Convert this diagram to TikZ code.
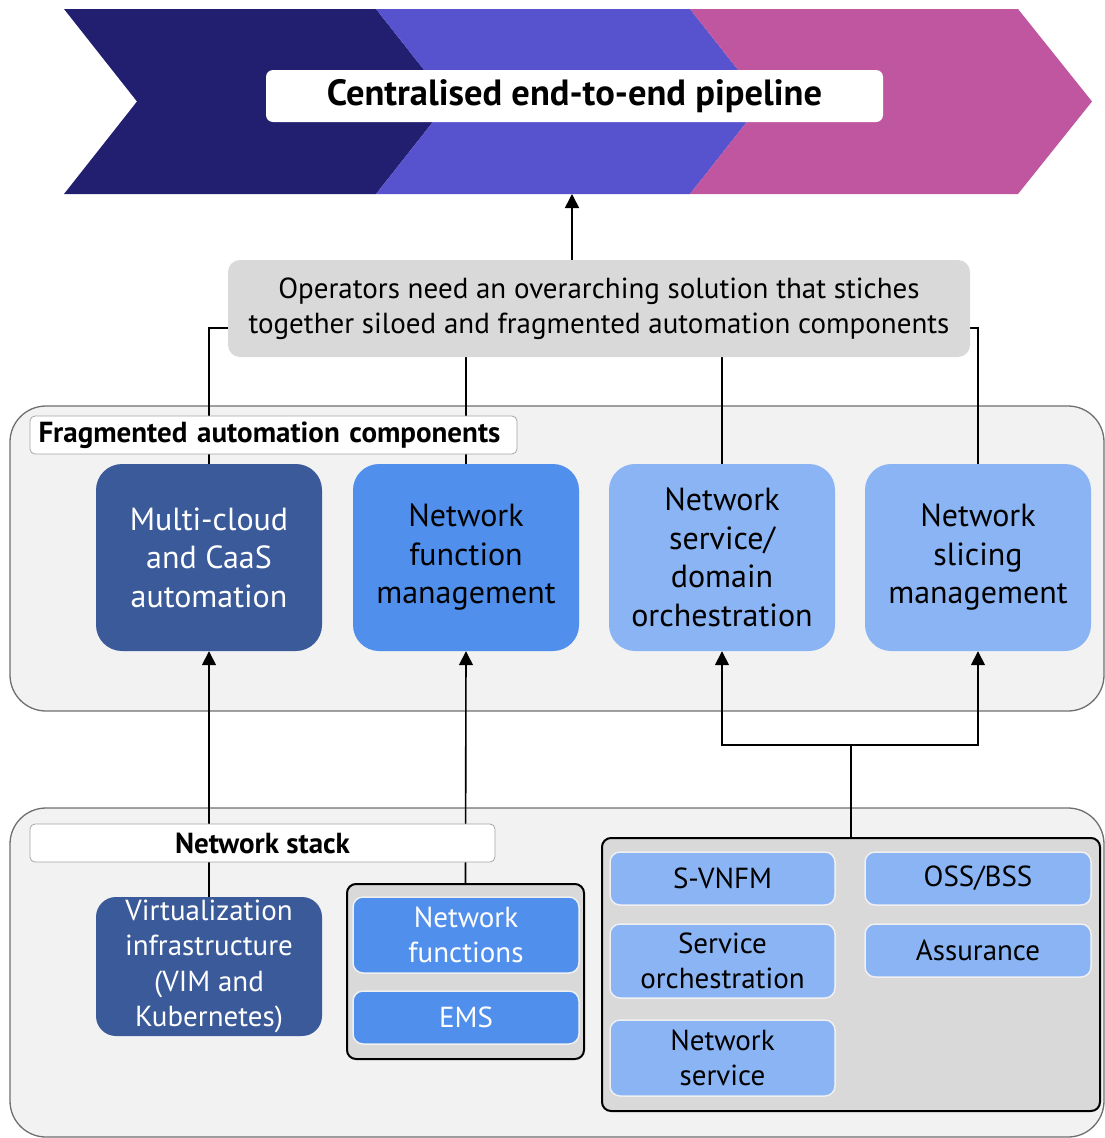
\documentclass[tikz,border=0pt]{standalone}
\usepackage{fontspec}
\setmainfont{PT Sans}
\usetikzlibrary{arrows.meta,backgrounds}
\definecolor{chevA}{HTML}{231F70}
\definecolor{chevB}{HTML}{5753CF}
\definecolor{chevC}{HTML}{C0569F}
\definecolor{darkcomp}{HTML}{3B5A9A}
\definecolor{midcomp}{HTML}{508FEC}
\definecolor{lightcomp}{HTML}{8AB4F3}
\definecolor{panelfill}{HTML}{F2F2F2}
\definecolor{groupfill}{HTML}{D9D9D9}
\definecolor{panelline}{HTML}{6F6F6F}
\newcommand\pipefont{\bfseries\fontsize{36.5}{40}\selectfont}
\newcommand\opsfont{\fontsize{29}{35}\selectfont}
\newcommand\compfont{\fontsize{32}{38.5}\selectfont}
\newcommand\stackfont{\fontsize{29}{35.5}\selectfont}
\newcommand\tagfont{\bfseries\fontsize{29}{32}\selectfont}
\begin{document}
\begin{tikzpicture}[x=1pt,y=-1pt,
    comp/.style={rounded corners=26pt, minimum width=226pt, minimum height=187pt, inner sep=0pt, align=center, font=\compfont},
    panel/.style={draw=panelline, line width=1.3pt, fill=panelfill, rounded corners=36pt, inner sep=0pt},
    tag/.style={draw=gray!70, line width=0.8pt, fill=white, rounded corners=5pt, minimum height=38pt, inner sep=0pt, font=\tagfont},
    group/.style={draw=black, line width=2pt, fill=groupfill, rounded corners=9pt, inner sep=0pt},
    item/.style={draw=white!88!gray, line width=1.5pt, rounded corners=10pt, inner sep=0pt, align=center, font=\stackfont},
    link/.style={line width=1.6pt},
    arr/.style={line width=1.6pt, -{Triangle[width=14pt,length=14pt]}}]
    \useasboundingbox (0,0) rectangle (1105,1138);
    \fill[chevA] (64,9) -- (376,9) -- (449,101.5) -- (376,194) -- (64,194) -- (137,101.5) -- cycle;
    \fill[chevB] (376,9) -- (690,9) -- (763,101.5) -- (690,194) -- (376,194) -- (449,101.5) -- cycle;
    \fill[chevC] (690,9) -- (1018,9) -- (1092,101.5) -- (1018,194) -- (690,194) -- (763,101.5) -- cycle;
    \node [fill=white, rounded corners=7pt, minimum width=617pt, minimum height=52pt, inner sep=0pt, font=\pipefont] (pipe) at (574.5,96) {Centralised end-to-end pipeline};
    \coordinate (band) at (572,194);
    \node [fill=groupfill, rounded corners=12pt, minimum width=742pt, minimum height=97pt, inner sep=0pt, align=center, font=\opsfont] (ops) at (599,308.5) {Operators need an overarching solution that stiches\\together siloed and fragmented automation components};
    \draw[arr] (ops.north -| band) -- (band);

    \begin{pgfonlayer}{background}
    \node [panel, minimum width=1094pt, minimum height=305pt] (fragpanel) at (557,558.5) {};
    \node [panel, minimum width=1094pt, minimum height=329pt] (stackpanel) at (557,972.5) {};
    \end{pgfonlayer}

    \node [tag, text width=470pt, inner xsep=8.5pt, align=left] (fragtag) at (273.5,435) {Fragmented automation components};
    \node [comp, fill=darkcomp, text=white] (cloud) at (209,557.5) {Multi-cloud\\and CaaS\\automation};
    \node [comp, fill=midcomp] (nfm) at (466,557.5) {Network\\function\\management};
    \node [comp, fill=lightcomp] (orch) at (722,557.5) {Network\\service/\\domain\\orchestration};
    \node [comp, fill=lightcomp] (slice) at (978,557.5) {Network\\slicing\\management};

    \node [tag, minimum width=465pt] (stacktag) at (262.5,843) {Network stack};
    \node [rounded corners=20pt, fill=darkcomp, text=white, minimum width=226pt, minimum height=139pt, inner sep=0pt, align=center, font=\stackfont] (virt) at (209,966.5) {Virtualization\\infrastructure\\(VIM and\\Kubernetes)};
    \node [group, minimum width=237pt, minimum height=175pt] (nfgroup) at (465.5,971.5) {};
    \node [item, fill=midcomp, text=white, minimum width=226pt, minimum height=76pt] (nf) at (466,935) {Network\\functions};
    \node [item, fill=midcomp, text=white, minimum width=226pt, minimum height=53pt] (ems) at (466,1017.5) {EMS};
    \node [group, minimum width=498pt, minimum height=273pt] (osgroup) at (851,974.5) {};
    \node [item, fill=lightcomp, minimum width=225pt, minimum height=53pt] (svnfm) at (722.5,878.5) {S-VNFM};
    \node [item, fill=lightcomp, minimum width=225pt, minimum height=74pt] (svcorch) at (722.5,961) {Service\\orchestration};
    \node [item, fill=lightcomp, minimum width=225pt, minimum height=76pt] (netsvc) at (722.5,1058) {Network\\service};
    \node [item, fill=lightcomp, minimum width=226pt, minimum height=53pt] (ossbss) at (978,878.5) {OSS/BSS};
    \node [item, fill=lightcomp, minimum width=226pt, minimum height=53pt] (assure) at (978,950.5) {Assurance};
    \coordinate (split) at (851,745);

    \begin{pgfonlayer}{background}
    \draw[link] ([yshift=-19.5pt]ops.west) -| (cloud.north);
    \draw[link] (ops.south -| nfm.north) -- (nfm.north);
    \draw[link] (ops.south -| orch.north) -- (orch.north);
    \draw[link] ([yshift=-19.5pt]ops.east) -| (slice.north);
    \draw[arr] (virt.north) -- (cloud.south);
    \draw[arr] (nfgroup.north) -- (nfm.south);
    \draw[link] (osgroup.north) -- (split);
    \draw[arr] (split) -| (orch.south);
    \draw[arr] (split) -| (slice.south);
    \end{pgfonlayer}
\end{tikzpicture}
\end{document}
